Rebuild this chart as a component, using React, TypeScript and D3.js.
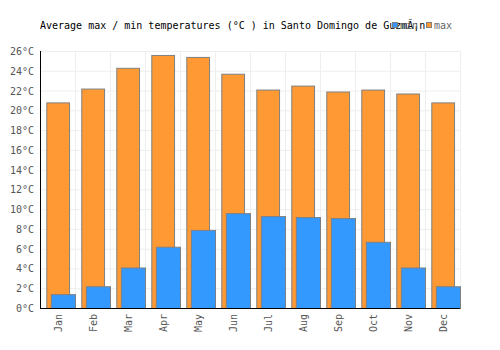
import React, { useRef, useEffect } from 'react';
import * as d3 from 'd3';

const months = ['Jan', 'Feb', 'Mar', 'Apr', 'May', 'Jun', 'Jul', 'Aug', 'Sep', 'Oct', 'Nov', 'Dec'];
const maxTemps = [20.8, 22.2, 24.3, 25.6, 25.4, 23.7, 22.1, 22.5, 21.9, 22.1, 21.7, 20.8];
const minTemps = [1.4, 2.2, 4.1, 6.2, 7.9, 9.6, 9.3, 9.2, 9.1, 6.7, 4.1, 2.2];
const yTicks = [0, 2, 4, 6, 8, 10, 12, 14, 16, 18, 20, 22, 24, 26];

const title = 'Average max / min temperatures (°C ) in Santo Domingo de GuzmÃ¡n';

export default function App() {
  const svgRef = useRef<SVGSVGElement | null>(null);

  useEffect(() => {
    if (!svgRef.current) return;
    const svg = d3.select(svgRef.current);
    svg.selectAll('*').remove();

    const width = 500;
    const height = 350;
    const margin = { top: 51, right: 40, bottom: 42, left: 40 };
    const font = "'DejaVu Sans Mono', monospace";

    const x = d3.scaleBand<string>()
      .domain(months)
      .range([margin.left, width - margin.right]);

    const y = d3.scaleLinear()
      .domain([0, 26])
      .range([height - margin.bottom, margin.top]);

    // grid
    const grid = svg.append('g');
    grid.selectAll('line.h')
      .data(yTicks)
      .join('line')
      .attr('x1', margin.left)
      .attr('x2', width - margin.right)
      .attr('y1', d => y(d) + 0.5)
      .attr('y2', d => y(d) + 0.5)
      .attr('stroke', '#eeeeee');
    grid.selectAll('line.v')
      .data(months)
      .join('line')
      .attr('x1', d => (x(d) as number) + x.bandwidth() + 0.5)
      .attr('x2', d => (x(d) as number) + x.bandwidth() + 0.5)
      .attr('y1', margin.top)
      .attr('y2', height - margin.bottom)
      .attr('stroke', '#eeeeee');

    const bw = x.bandwidth();

    // max bars
    svg.append('g')
      .selectAll('rect')
      .data(maxTemps)
      .join('rect')
      .attr('x', (d, i) => (x(months[i]) as number) + bw * 0.18 + 0.5)
      .attr('y', d => y(d) + 0.5)
      .attr('width', bw * 0.65)
      .attr('height', d => y(0) - y(d))
      .attr('fill', '#ff9933')
      .attr('stroke', '#808080')
      .attr('stroke-width', 1);

    // min bars
    svg.append('g')
      .selectAll('rect')
      .data(minTemps)
      .join('rect')
      .attr('x', (d, i) => (x(months[i]) as number) + bw * 0.31 + 0.5)
      .attr('y', d => y(d) + 0.5)
      .attr('width', bw * 0.69)
      .attr('height', d => y(0) - y(d))
      .attr('fill', '#3399ff')
      .attr('stroke', '#808080')
      .attr('stroke-width', 1);

    // axes lines
    svg.append('line')
      .attr('x1', margin.left + 0.5)
      .attr('x2', margin.left + 0.5)
      .attr('y1', margin.top)
      .attr('y2', height - margin.bottom + 1)
      .attr('stroke', '#000');
    svg.append('line')
      .attr('x1', margin.left)
      .attr('x2', width - margin.right)
      .attr('y1', height - margin.bottom + 0.5)
      .attr('y2', height - margin.bottom + 0.5)
      .attr('stroke', '#000');

    // y labels
    svg.append('g')
      .selectAll('text')
      .data(yTicks)
      .join('text')
      .attr('x', margin.left - 6)
      .attr('y', d => y(d) + 4)
      .attr('text-anchor', 'end')
      .attr('font-family', font)
      .attr('font-size', 10)
      .attr('fill', '#555')
      .text(d => `${d}°C`);

    // x labels
    svg.append('g')
      .selectAll('text')
      .data(months)
      .join('text')
      .attr('transform', d => `translate(${(x(d) as number) + bw / 2 + 4},${height - margin.bottom + 6}) rotate(-90)`)
      .attr('text-anchor', 'end')
      .attr('font-family', font)
      .attr('font-size', 10)
      .attr('fill', '#555')
      .text(d => d);

    // title
    svg.append('text')
      .attr('x', margin.left)
      .attr('y', 29)
      .attr('font-family', font)
      .attr('font-size', 10)
      .attr('fill', '#000')
      .text(title);

    // legend
    const legend = [
      { label: 'min', color: '#3399ff', x: 392 },
      { label: 'max', color: '#ff9933', x: 426 },
    ];
    const lg = svg.append('g');
    legend.forEach(l => {
      lg.append('rect')
        .attr('x', l.x + 0.5)
        .attr('y', 22.5)
        .attr('width', 5)
        .attr('height', 5)
        .attr('fill', l.color)
        .attr('stroke', '#808080');
      lg.append('text')
        .attr('x', l.x + 8)
        .attr('y', 29)
        .attr('font-family', font)
        .attr('font-size', 10)
        .attr('fill', '#666')
        .text(l.label);
    });
  }, []);

  return (
    <div style={{ width: 500, height: 350, margin: -8 }}>
      <svg ref={svgRef} width={500} height={350}></svg>
    </div>
  );
}
